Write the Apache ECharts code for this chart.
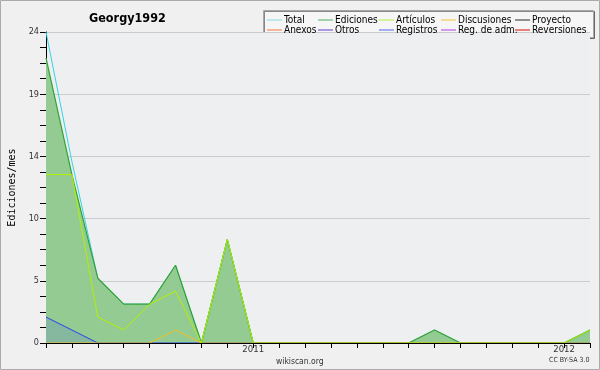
<!DOCTYPE html>
<html><head><meta charset="utf-8">
<script src="https://cdn.jsdelivr.net/npm/echarts@6/dist/echarts.min.js"></script>
<style>html,body{margin:0;padding:0;background:#f0f0f0}#c{width:600px;height:370px}</style>
</head><body><div id="c"></div>
<script>
const months = ['2010-05','2010-06','2010-07','2010-08','2010-09','2010-10','2010-11','2010-12',
  '2011-01','2011-02','2011-03','2011-04','2011-05','2011-06','2011-07','2011-08','2011-09','2011-10','2011-11','2011-12',
  '2012-01','2012-02'];
const total       = [24,14,5,3,3,6,0,8,0,0,0,0,0,0,0,1,0,0,0,0,0,1];
const ediciones   = [22,13,5,3,3,6,0,8,0,0,0,0,0,0,0,1,0,0,0,0,0,1];
const articulos   = [13,13,2,1,3,4,0,8,0,0,0,0,0,0,0,0,0,0,0,0,0,1];
const discusiones = [0,0,0,0,0,1,0,0,0,0,0,0,0,0,0,0,0,0,0,0,0,0];
const registros   = [2,1,0,0,0,0,0,0,0,0,0,0,0,0,0,0,0,0,0,0,0,0];
const proyecto    = [0,0,0,0,0,0,0,0,0,0,0,0,0,0,0,0,0,0,0,0,0,0];
const anexos      = [0,0,0,0,0,0,0,0,0,0,0,0,0,0,0,0,0,0,0,0,0,0];
const otros       = [0,0,0,0,0,0,0,0,0,0,0,0,0,0,0,0,0,0,0,0,0,0];
const regadm      = [0,0,0,0,0,0,0,0,0,0,0,0,0,0,0,0,0,0,0,0,0,0];
const reversiones = [0,0,0,0,0,0,0,0,0,0,0,0,0,0,0,0,0,0,0,0,0,0];
const yTicks = [0, 4.8, 9.6, 14.4, 19.2, 24];

const F = "'DejaVu Sans Condensed', 'DejaVu Sans'";
const FM = "'DejaVu Sans Mono', monospace";
const lineColors = {
  'Total':'#33d4e4','Ediciones':'#34a234','Artículos':'#b4f000','Discusiones':'#f0c020','Proyecto':'#555555',
  'Anexos':'#f07030','Otros':'#7030d0','Registros':'#2a40f0','Reg. de adm.':'#c040e0','Reversiones':'#e02020'};
const legendColors = {
  'Total':'#a8e4e6','Ediciones':'#84c894','Artículos':'#c8f07e','Discusiones':'#f6d474','Proyecto':'#6e6e6e',
  'Anexos':'#f2a07a','Otros':'#9676de','Registros':'#8894ee','Reg. de adm.':'#c87ae8','Reversiones':'#e45a5a'};
const cols = [['Total','Anexos'],['Ediciones','Otros'],['Artículos','Registros'],['Discusiones','Reg. de adm.'],['Proyecto','Reversiones']];
const colX = [267,318,379,441,515];

function ser(name, data, z, area, w) {
  const s = {name, type:'line', data, symbol:'none', z, silent:true,
    lineStyle:{color:lineColors[name], width:w || 1}, itemStyle:{color:lineColors[name]}};
  if (area) s.areaStyle = area;
  return s;
}

const chart = echarts.init(document.getElementById('c'), null, {renderer:'canvas'});
chart.setOption({
  animation:false,
  backgroundColor:'#f0f0f0',
  title:{text:'Georgy1992', left:84, top:7, textStyle:{fontFamily:F, fontSize:12.5, fontWeight:'bold', color:'#000'}},
  legend: cols.map((c,i)=>({
    orient:'vertical', left:colX[i], top:15, itemGap:0, itemWidth:15, itemHeight:1.5, icon:'rect',
    selectedMode:false, padding:0,
    textStyle:{fontFamily:F, fontSize:10, color:'#000', lineHeight:10, padding:[0,0,0,-3]},
    data:c.map(n=>({name:n, itemStyle:{color:legendColors[n]}}))
  })),
  grid:{left:46, right:10, top:32, bottom:27, show:true, backgroundColor:'#eeeff1', borderWidth:0,
    containLabel:false, outerBoundsMode:'none'},
  xAxis:{type:'category', data:months, boundaryGap:false, z:5,
    axisLine:{lineStyle:{color:'#000', width:1}},
    axisTick:{interval:0, length:5, lineStyle:{color:'#000'}},
    axisLabel:{interval:0, margin:2, fontFamily:F, fontSize:9.5, color:'#333',
      formatter:v=> v.endsWith('-01') ? v.slice(0,4) : ''},
    splitLine:{show:false}},
  yAxis:{type:'value', min:0, max:24, interval:4.8, name:'Ediciones/mes', nameLocation:'middle', nameGap:26,
    nameTextStyle:{fontFamily:FM, fontSize:10, color:'#000'},
    axisLine:{show:true, lineStyle:{color:'#000'}},
    axisTick:{show:true, length:6, lineStyle:{color:'#000'}},
    minorTick:{show:true, splitNumber:4, length:6, lineStyle:{color:'#000'}},
    axisLabel:{margin:7, fontFamily:F, fontSize:9, color:'#333', formatter:v=>String(Math.round(v))},
    splitLine:{show:true, lineStyle:{color:'#cccccc', width:1}}},
  series:[
    ser('Total', total, 2),
    ser('Ediciones', ediciones, 3, {color:'#93cb93', opacity:1}, 1.2),
    ser('Registros', registros, 4, {color:'#2a40f0', opacity:0.13}),
    ser('Discusiones', discusiones, 4),
    ser('Artículos', articulos, 4),
    ser('Proyecto', proyecto, 1),
    ser('Anexos', anexos, 1),
    ser('Otros', otros, 1),
    ser('Reg. de adm.', regadm, 1),
    ser('Reversiones', reversiones, 1)
  ],
  graphic:[
    {type:'rect', z:-1, left:263, top:10, shape:{width:330, height:27},
      style:{fill:'#f6f6f6', stroke:'#a8a8a8', lineWidth:1, shadowColor:'rgba(0,0,0,0.45)', shadowOffsetX:1, shadowOffsetY:1}},
    {type:'text', left:276, top:357, style:{text:'wikiscan.org', fontFamily:F, fontSize:8.5, fill:'#333'}},
    {type:'text', left:549, top:357, style:{text:'CC BY-SA 3.0', fontFamily:F, fontSize:7, fill:'#333'}},
    {type:'rect', z:100, shape:{x:0.5, y:0.5, width:599, height:369}, style:{fill:'none', stroke:'#aaaaaa', lineWidth:1}}
  ]
});
</script></body></html>
